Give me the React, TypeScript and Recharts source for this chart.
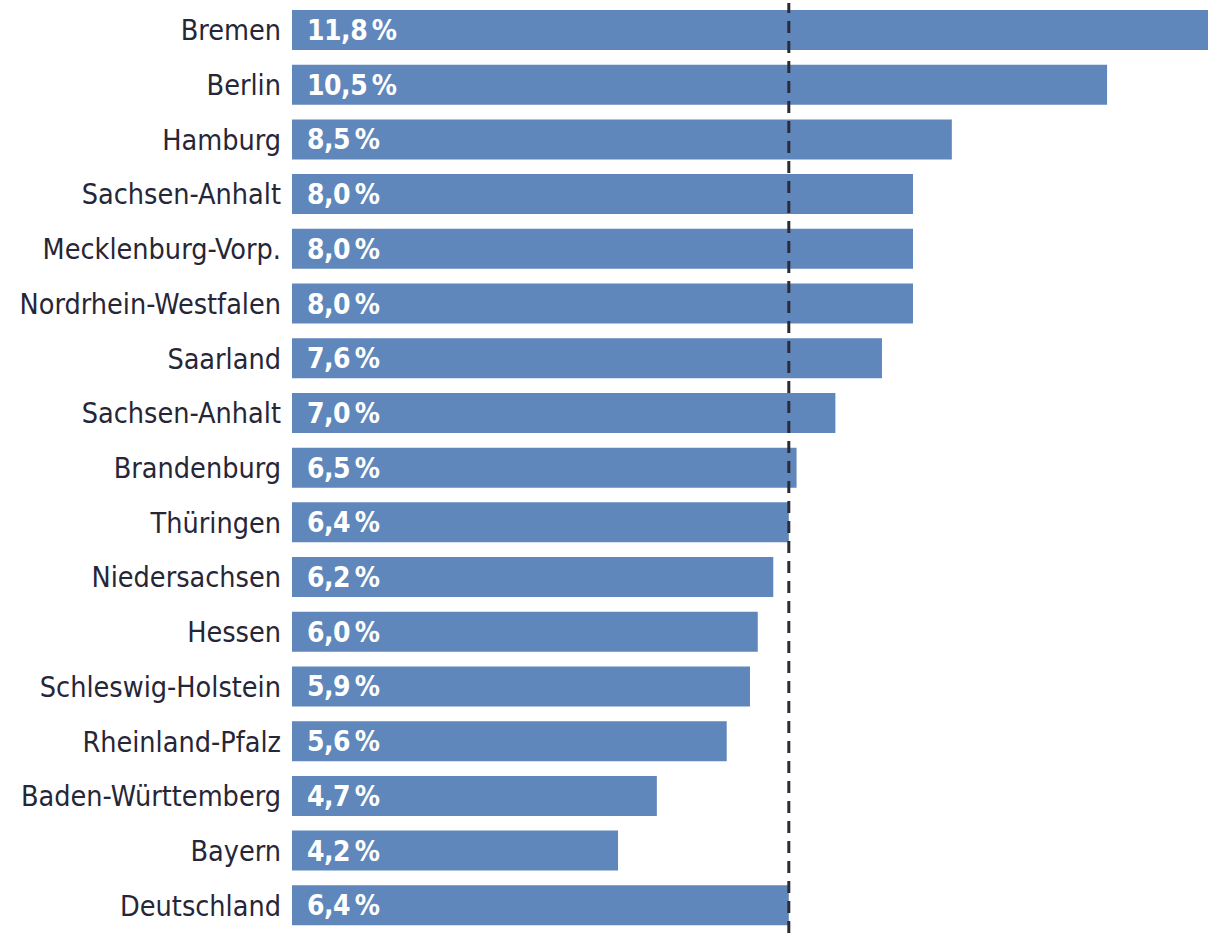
import React from 'react';
import { BarChart, Bar, XAxis, YAxis, ReferenceLine, LabelList } from 'recharts';

const categories = [
  'Bremen', 'Berlin', 'Hamburg', 'Sachsen-Anhalt', 'Mecklenburg-Vorp.', 'Nordrhein-Westfalen',
  'Saarland', 'Sachsen-Anhalt', 'Brandenburg', 'Thüringen', 'Niedersachsen', 'Hessen',
  'Schleswig-Holstein', 'Rheinland-Pfalz', 'Baden-Württemberg', 'Bayern', 'Deutschland',
];
const values = [11.8, 10.5, 8.5, 8.0, 8.0, 8.0, 7.6, 7.0, 6.5, 6.4, 6.2, 6.0, 5.9, 5.6, 4.7, 4.2, 6.4];
const referenceValue = 6.4;

const data = categories.map((name, i) => ({ key: `c${i}`, name, value: values[i] }));

const FONT = "'DejaVu Sans Condensed', 'Liberation Sans Narrow', 'Roboto', sans-serif";

const fmt = (v: number) => `${v.toFixed(1).replace('.', ',')}\u2009%`;

const YTick = (props: any) => {
  const { x, y, payload } = props;
  const label = categories[payload.index] ?? '';
  return (
    <text x={x} y={y} dy={10} textAnchor="end" fill="#262637" fontSize={28.5} fontFamily={FONT} style={{ fontStretch: 'condensed' }}>
      {label}
    </text>
  );
};

const ValueLabel = (props: any) => {
  const { x, y, height, value } = props;
  return (
    <text x={x + 15} y={y + height / 2} dy={10} fill="#ffffff" fontSize={28} fontWeight="bold" fontFamily={FONT} style={{ fontStretch: 'condensed' }} letterSpacing={-0.5}>
      {fmt(value)}
    </text>
  );
};

export default function App() {
  return (
    <div style={{ position: 'absolute', left: 0, top: 0, width: 1220, height: 938, background: '#ffffff' }}>
      <BarChart width={1220} height={938} data={data} layout="vertical" margin={{ top: 3, right: 12, bottom: 5, left: 0 }}>
        <XAxis type="number" domain={[0, 11.8]} hide />
        <YAxis type="category" dataKey="key" width={292} axisLine={false} tickLine={false} tickSize={0} tickMargin={11} tick={<YTick />} interval={0} />
        <Bar dataKey="value" fill="#5f87bb" barSize={40} isAnimationActive={false}>
          <LabelList dataKey="value" content={<ValueLabel />} />
        </Bar>
        <ReferenceLine x={referenceValue} stroke="#2b2b36" strokeWidth={3} strokeDasharray="12 8" ifOverflow="extendDomain" />
      </BarChart>
    </div>
  );
}
